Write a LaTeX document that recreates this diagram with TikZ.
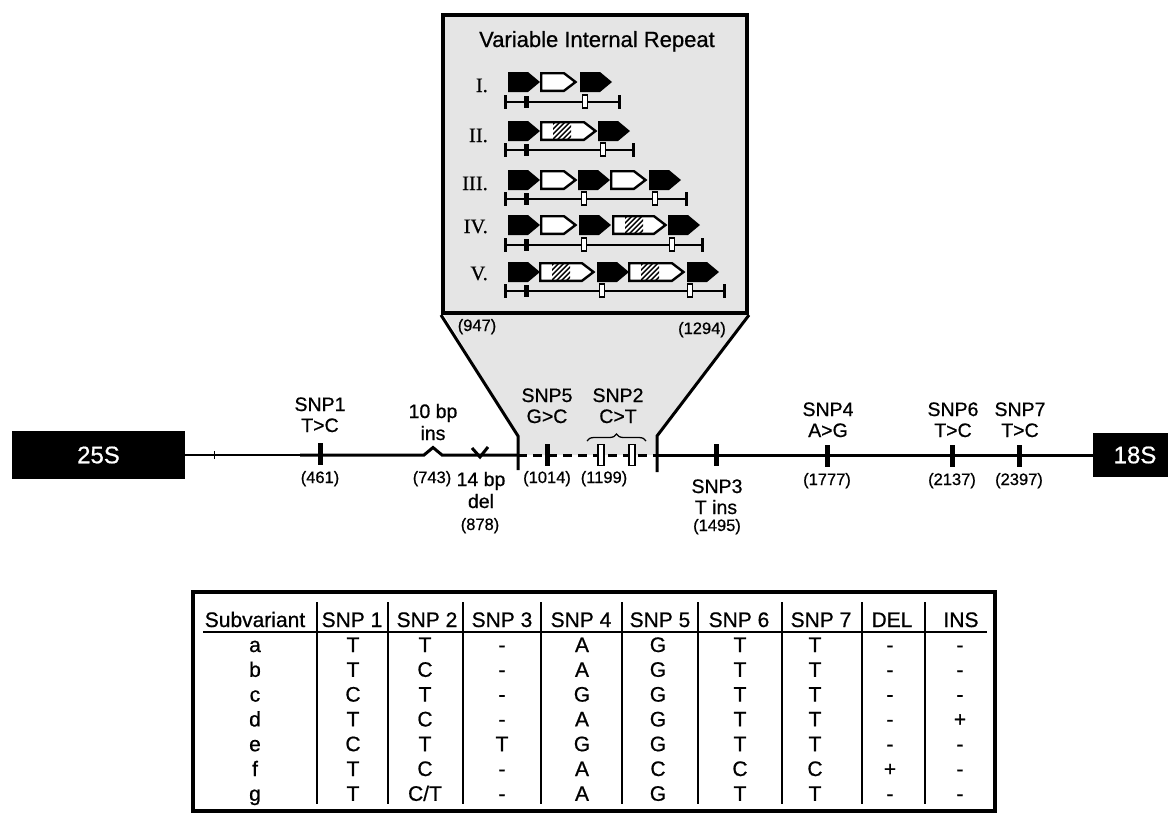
\documentclass[tikz,border=0pt]{standalone}
\usepackage{fontspec}
\setmainfont{Liberation Sans}[FakeBold=0.7]
\newfontfamily\numeralfont{Liberation Serif}[FakeBold=0.5]
\usetikzlibrary{decorations.pathreplacing}

\definecolor{panelgray}{gray}{0.9}

% filled repeat unit (x, y)
\newcommand\solidseg[2]{%
  \fill (#1,#2-10) -- (#1+20,#2-10) -- (#1+32,#2) -- (#1+20,#2+10) -- (#1,#2+10) -- cycle;}
% open repeat unit (x, y, length)
\newcommand\openseg[3]{%
  \draw[line width=2.4pt, fill=white] (#1+1.2,#2-8.8) -- (#1+#3-13,#2-8.8) -- (#1+#3-1.5,#2)
     -- (#1+#3-13,#2+8.8) -- (#1+1.2,#2+8.8) -- cycle;}
% open repeat unit with a hatched band (x, y, length)
\newcommand\hatchseg[3]{%
  \openseg{#1}{#2}{#3}%
  \begin{scope}
    \clip (#1+13,#2-7.6) rectangle (#1+31,#2+7.6);
    \foreach \k in {-18,-13,...,32}
      \draw[line width=1.4pt] (#1+\k,#2+9) -- (#1+\k+18,#2-9);
  \end{scope}}
% scale bar under each repeat row (y, right end)
\newcommand\scalebar[2]{%
  \draw[line width=2.6pt] (505,#1) -- (#2,#1);
  \draw[line width=3pt] (505,#1-7) -- (505,#1+6.5);
  \draw[line width=3pt] (#2,#1-7) -- (#2,#1+6.5);
  \fill (524,#1-6) rectangle (528.5,#1+6);}
% open site marker on a scale bar (x, y)
\newcommand\sitemark[2]{%
  \draw[line width=1.2pt, fill=white] (#1-2.5,#2-7) rectangle (#1+2.5,#2+6);}

\begin{document}
\begin{tikzpicture}[x=1pt, y=-1pt,
  lbl/.style={font=\fontsize{19.5}{21}\selectfont, inner sep=0pt, anchor=base},
  posn/.style={font=\fontsize{16.5}{18}\selectfont, inner sep=0pt, anchor=base},
  cell/.style={font=\fontsize{21}{23}\selectfont, inner sep=0pt, anchor=base},
  numeral/.style={font=\numeralfont\fontsize{20.5}{22}\selectfont, inner sep=0pt, anchor=base east},
  rrna/.style={fill=black, text=white, font=\fontsize{24}{26}\selectfont, inner sep=0pt},
  snptick/.style={fill=black, minimum width=5pt, minimum height=22pt, inner sep=0pt},
  sitebox/.style={draw=black, fill=white, line width=1.3pt, minimum width=6pt, minimum height=21pt, inner sep=0pt},
  mainline/.style={line width=3pt},
  edge/.style={line width=3pt},
]
\useasboundingbox (0,0) rectangle (1168,812);

% ---------- inset panel with the zoom funnel ----------
\fill[panelgray] (443,313) -- (518,436) -- (518,455) -- (657,455) -- (657,436) -- (748,313) -- cycle;
\node[draw, line width=4pt, fill=panelgray, minimum width=304pt, minimum height=298pt, inner sep=0pt] (panel) at (595,164) {};
\draw[edge] (panel.south west) -- (518,436) coordinate (kL) -- (518,470);
\draw[edge] (panel.south east) -- (657,436) coordinate (kR) -- (657,472);

\node[font=\fontsize{22}{24}\selectfont, inner sep=0pt, anchor=base] (title) at (597,47) {Variable Internal Repeat};

\node[numeral] (n1) at (488,92) {I.};
\node[numeral] (n2) at (488,142) {II.};
\node[numeral] (n3) at (488,190) {III.};
\node[numeral] (n4) at (488,233) {IV.};
\node[numeral] (n5) at (488,280) {V.};

% row I
\solidseg{508}{82} \openseg{540}{82}{37} \solidseg{580}{82}
\scalebar{102}{619} \sitemark{585}{102}
% row II
\solidseg{508}{131} \hatchseg{540}{131}{57} \solidseg{598}{131}
\scalebar{150}{633} \sitemark{603}{150}
% row III
\solidseg{508}{180} \openseg{540}{180}{37} \solidseg{578}{180} \openseg{610}{180}{37} \solidseg{649}{180}
\scalebar{199}{686} \sitemark{584}{199} \sitemark{655}{199}
% row IV
\solidseg{508}{225} \openseg{540}{225}{37} \solidseg{579}{225} \hatchseg{612}{225}{55} \solidseg{668}{225}
\scalebar{245}{702} \sitemark{584}{245} \sitemark{672}{245}
% row V
\solidseg{508}{272} \hatchseg{539}{272}{56} \solidseg{597}{272} \hatchseg{628}{272}{57} \solidseg{687}{272}
\scalebar{291}{724} \sitemark{602}{291} \sitemark{690}{291}

\node[posn] (p947) at (477,331) {(947)};
\node[posn] (p1294) at (702,334) {(1294)};

% ---------- ITS map ----------
\node[rrna, minimum width=173pt, minimum height=48pt] (r25) at (98.5,455) {25S};
\node[rrna, minimum width=84pt, minimum height=44pt] (r18) at (1135,455) {18S};
\coordinate (vL) at (518,455);
\coordinate (vR) at (657,455);
\coordinate (thick) at (300,455);

\draw[line width=2.2pt] (r25.east) -- (thick);
\draw[line width=1pt] (214,451) -- (214,459);
\draw[mainline] (thick) -- (424,455) -- (433,447.5) -- (442,455) -- (vL);
\draw[mainline] (472,448) -- (480,457) -- (488,447);
\draw[mainline, dash pattern=on 9pt off 6pt] (vL) -- (vR);
\draw[mainline] (vR) -- (r18.west);

% SNP sites
\node[snptick] (s1) at (320,454) {};
\node[snptick] (s5) at (547,455) {};
\node[sitebox] (s2a) at (601,455) {};
\node[sitebox] (s2b) at (632,455) {};
\node[snptick] (s3) at (716,455) {};
\node[snptick] (s4) at (827,456) {};
\node[snptick] (s6) at (952,456) {};
\node[snptick] (s7) at (1019,456) {};
\draw[decorate, decoration={brace, amplitude=7pt}, line width=1.3pt] (587,441) -- (646,441);

% labels
\node[lbl] (t1a) at (320,411) {SNP1};
\node[lbl] (t1b) at (320,432) {T>C};
\node[posn] (t1c) at (320,483) {(461)};

\node[lbl] (tia) at (433,418) {10 bp};
\node[lbl] (tib) at (433,440) {ins};
\node[posn] (tic) at (432,483) {(743)};

\node[lbl] (tda) at (481,486) {14 bp};
\node[lbl] (tdb) at (481,508) {del};
\node[posn] (tdc) at (480,530) {(878)};

\node[lbl] (t5a) at (547,402) {SNP5};
\node[lbl] (t5b) at (547,423) {G>C};
\node[posn] (t5c) at (547,483) {(1014)};

\node[lbl] (t2a) at (618,402) {SNP2};
\node[lbl] (t2b) at (618,423) {C>T};
\node[posn] (t2c) at (604,483) {(1199)};

\node[lbl] (t3a) at (717,493) {SNP3};
\node[lbl] (t3b) at (716,514) {T ins};
\node[posn] (t3c) at (717,531) {(1495)};

\node[lbl] (t4a) at (828,416) {SNP4};
\node[lbl] (t4b) at (828,437) {A>G};
\node[posn] (t4c) at (827,485) {(1777)};

\node[lbl] (t6a) at (953,416) {SNP6};
\node[lbl] (t6b) at (953,437) {T>C};
\node[posn] (t6c) at (952,485) {(2137)};

\node[lbl] (t7a) at (1020,416) {SNP7};
\node[lbl] (t7b) at (1020,437) {T>C};
\node[posn] (t7c) at (1019,485) {(2397)};

% ---------- subvariant table ----------
\node[draw, line width=4pt, minimum width=802pt, minimum height=219pt, inner sep=0pt] (tbl) at (594,701.5) {};
\draw[line width=2pt] (203,632) -- (987,632);
\foreach \x in {317,388,463,541,622,698,782,862,925}
  \draw[line width=2pt] (\x,602) -- (\x,804);

\foreach \x/\txt [count=\i] in {255/Subvariant, 352/SNP 1, 427/SNP 2, 502/SNP 3, 581/SNP 4,
    660/SNP 5, 739/SNP 6, 821/SNP 7, 892/DEL, 961/INS}
  \node[cell] (h\i) at (\x,627) {\txt};

\foreach \row [count=\ri] in {{a,T,T,-,A,G,T,T,-,-},{b,T,C,-,A,G,T,T,-,-},{c,C,T,-,G,G,T,T,-,-},
    {d,T,C,-,A,G,T,T,-,+},{e,C,T,T,G,G,T,T,-,-},{f,T,C,-,A,C,C,C,+,-},{g,T,C/T,-,A,G,T,T,-,-}}
  \foreach \v [count=\cj] in \row {
    \pgfmathsetmacro\cx{{255,353,425,502,582,658,740,815,890,960}[\cj-1]}
    \pgfmathsetmacro\cy{652+(\ri-1)*24.8}
    \node[cell] (c-\ri-\cj) at (\cx,\cy) {\v};
  }

\end{tikzpicture}
\end{document}
